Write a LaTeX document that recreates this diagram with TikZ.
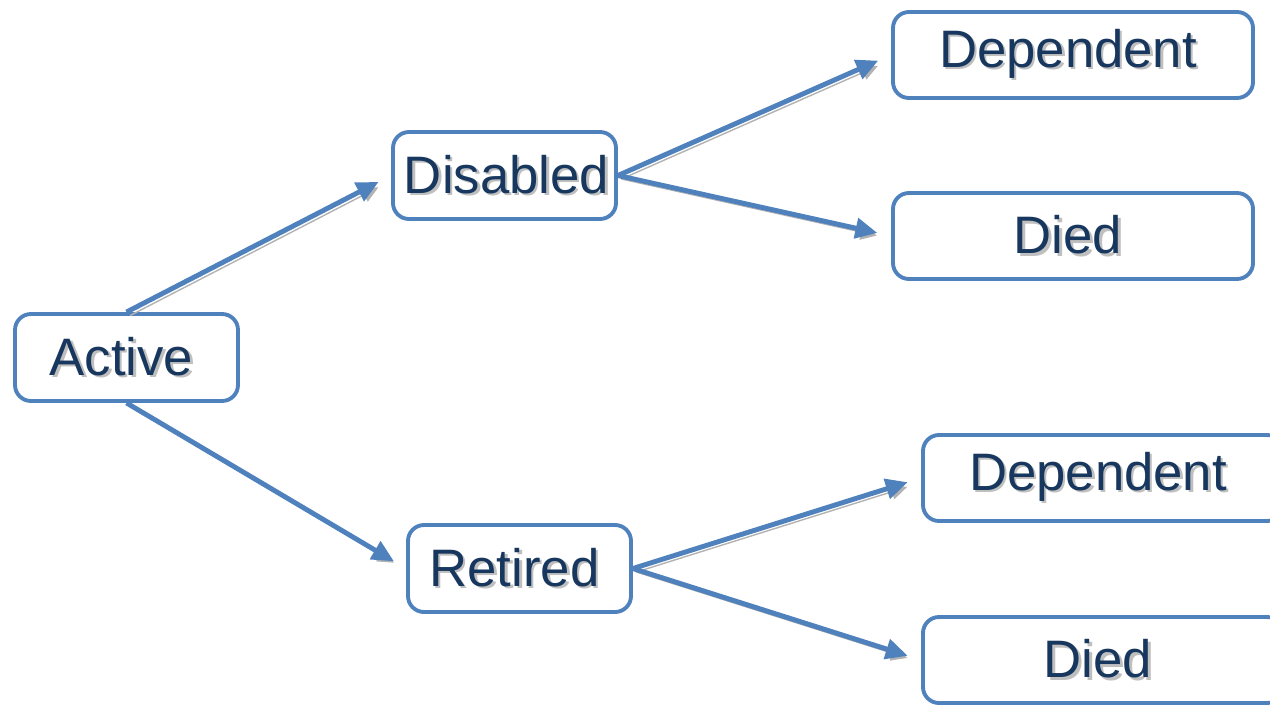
\documentclass[tikz,border=0pt]{standalone}
\usepackage{fontspec}
\setmainfont{Liberation Sans}
\usetikzlibrary{arrows.meta}

\definecolor{boxblue}{HTML}{4F81BD}
\definecolor{navy}{HTML}{17375E}

% text with a soft grey shadow
\newcommand{\shtext}[1]{\makebox[0pt][l]{\kern0.7pt\raisebox{-0.7pt}{\color{black!25}#1}}#1}

\begin{document}
\begin{tikzpicture}[
        state/.style = {draw = boxblue, line width = 1.1pt, fill = white, rounded corners = 0.16cm,
                        text = navy, font = \fontsize{15}{18}\selectfont,
                        minimum width = 2.23cm, minimum height = 0.87cm, inner sep = 0pt},
        wide/.style = {state, minimum width = 3.60cm, minimum height = 0.86cm},
        link/.style = {draw = boxblue, line width = 1.4pt, shorten > = 0.14cm,
                       -{Triangle[length = 0.22cm, width = 0.2cm]},
                       preaction = {draw = black!30, transform canvas = {shift = {(0.035, -0.035)}}}}
    ]
        \useasboundingbox (0, 0) rectangle (12.70, -7.04);
        \clip (0, 0) rectangle (12.70, -7.04);

        \node (act) at (1.265, -3.575) [state] {\hspace*{-0.1cm}\shtext{Active}};
        \node (dis) at (5.045, -1.755) [state] {\hspace*{0.04cm}\shtext{Disabled}};
        \node (ret) at (5.195, -5.685) [state] {\hspace*{-0.1cm}\shtext{Retired}};
        \node (dep1) at (10.73, -0.55) [wide] {\hspace*{-0.1cm}\shtext{Dependent}};
        \node (died1) at (10.73, -2.36) [wide] {\hspace*{-0.1cm}\shtext{Died}};
        \node (dep2) at (11.03, -4.78) [wide] {\hspace*{-0.1cm}\shtext{Dependent}};
        \node (died2) at (11.03, -6.60) [wide] {\hspace*{-0.1cm}\shtext{Died}};

        \draw[link] (act.north) -- (dis.west);
        \draw[link] (act.south) -- (ret.west);
        \draw[link] (dis.east) -- (dep1.west);
        \draw[link] (dis.east) -- (died1.west);
        \draw[link] (ret.east) -- (dep2.west);
        \draw[link] (ret.east) -- (died2.west);
    \end{tikzpicture}
\end{document}
